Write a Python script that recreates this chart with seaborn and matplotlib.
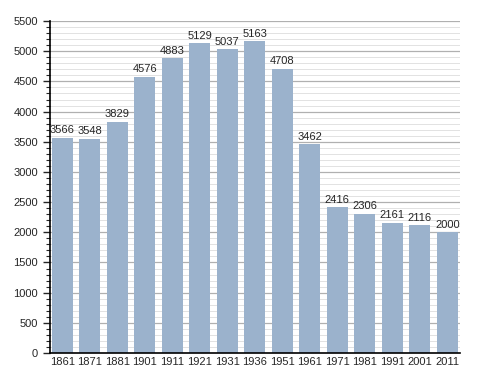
import matplotlib
matplotlib.use("Agg")
import matplotlib.pyplot as plt
from matplotlib.ticker import MultipleLocator
import seaborn as sns
import pandas as pd

years = ["1861", "1871", "1881", "1901", "1911", "1921", "1931", "1936",
         "1951", "1961", "1971", "1981", "1991", "2001", "2011"]
population = [3566, 3548, 3829, 4576, 4883, 5129, 5037, 5163,
              4708, 3462, 2416, 2306, 2161, 2116, 2000]

df = pd.DataFrame({"Year": years, "Population": population})

sns.set_style("white")
plt.rcParams["font.family"] = ["Liberation Sans", "DejaVu Sans"]

fig = plt.figure(figsize=(4.88, 3.73), dpi=100)
ax = fig.add_axes([0.1025, 0.0536, 0.84, 0.89])

sns.barplot(data=df, x="Year", y="Population", color="#9bb2cc",
            saturation=1, width=0.76, linewidth=0, edgecolor="none", ax=ax)
for p in ax.patches:
    p.set_zorder(3)

ax.set_ylim(0, 5500)
ax.set_xlim(-0.44, len(years) - 0.54)
ax.yaxis.set_major_locator(MultipleLocator(500))
ax.yaxis.set_minor_locator(MultipleLocator(100))
ax.grid(which="major", axis="y", color="#b0b0b0", linewidth=0.9, zorder=0)
ax.grid(which="minor", axis="y", color="#e2e2e2", linewidth=0.7, zorder=0)
ax.set_axisbelow(True)

for i, v in enumerate(population):
    ax.text(i, v + 40, str(v), ha="center", va="bottom", fontsize=8, zorder=4)

for s in ["top", "right"]:
    ax.spines[s].set_visible(False)
ax.spines["left"].set_linewidth(1.2)
ax.spines["bottom"].set_linewidth(1.2)
ax.spines["left"].set_color("black")
ax.spines["bottom"].set_color("black")
ax.spines["left"].set_zorder(5)
ax.spines["bottom"].set_zorder(5)

ax.tick_params(axis="y", which="major", length=5, width=1, labelsize=8, left=True)
ax.tick_params(axis="y", which="minor", length=3, width=0.8, left=True)
ax.tick_params(axis="x", length=0, labelsize=8, pad=3)
ax.set_xlabel("")
ax.set_ylabel("")

fig.savefig("out.png", dpi=100)
